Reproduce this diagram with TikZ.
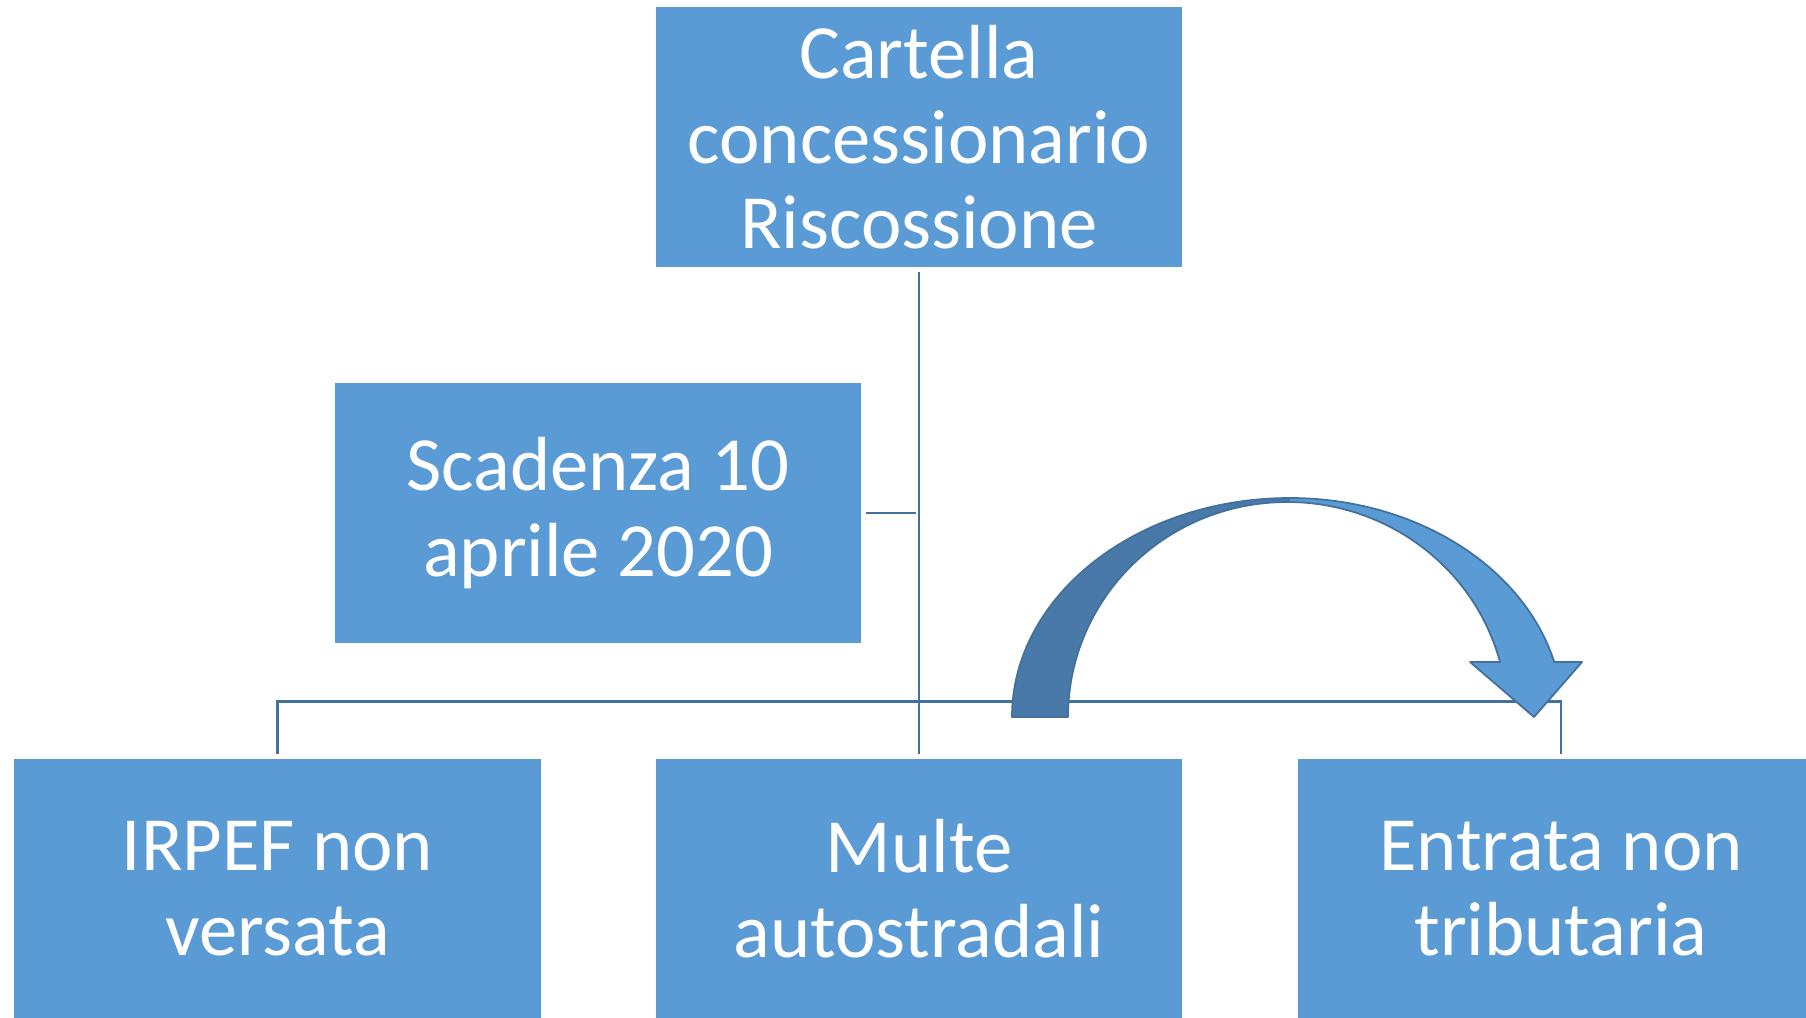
\documentclass[tikz,border=0pt]{standalone}
\usepackage{fontspec}
\setmainfont{Carlito}
\definecolor{boxblue}{HTML}{5B9BD5}
\definecolor{linkblue}{HTML}{41719C}
\definecolor{darkarrow}{HTML}{4879A9}
\tikzset{
  box/.style={draw=white, line width=0.4pt, fill=boxblue, text=white,
    minimum width=5.28cm, minimum height=2.62cm, inner sep=0pt,
    align=center, font=\fontsize{21.8}{24.2}\selectfont},
  conn/.style={draw=linkblue, line width=0.7pt, shorten <=0.9pt, shorten >=0.9pt},
  arrowpart/.style={draw=linkblue, line width=0.5pt, line join=round}
}
\begin{document}
\begin{tikzpicture}[x=0.01cm, y=-0.01cm]
\useasboundingbox (0,0) rectangle (1806,1017);
\clip (0,0) rectangle (1806,1017);
\fill[white] (0,0) rectangle (1806,1017);
% boxes
\node[box] (top) at (919,137) {Cartella\\concessionario\\Riscossione};
\node[box] (scad) at (598,513) {Scadenza 10\\aprile 2020};
\node[box] (irpef) at (277.5,889) {IRPEF non\\versata};
\node[box] (multe) at (919,889) {Multe\\autostradali};
\node[box] (entr) at (1561,889) {Entrata non\\tributaria};
% connectors
\coordinate (hl) at (277.5,701.5);
\coordinate (hr) at (1561,701.5);
\draw[conn] (top.south) -- (multe.north);
\draw[conn] (scad.east) -- (scad.east -| top.south);
\draw[conn] (irpef.north) -- (hl) -- (hr) -- (entr.north);
% curved arrow
\draw[arrowpart, fill=boxblue]
  (1290,498) arc[start angle=270, end angle=345.46, x radius=273, y radius=219]
  -- (1582,662) -- (1534,717) -- (1470,662) -- (1500,662)
  arc[start angle=345.18, end angle=270, x radius=220, y radius=215]
  -- cycle;
\draw[arrowpart, fill=darkarrow]
  (1012,717) arc[start angle=180, end angle=270, x radius=278, y radius=219]
  -- (1287,502)
  arc[start angle=270, end angle=180, x radius=219, y radius=215]
  -- cycle;
\end{tikzpicture}
\end{document}
